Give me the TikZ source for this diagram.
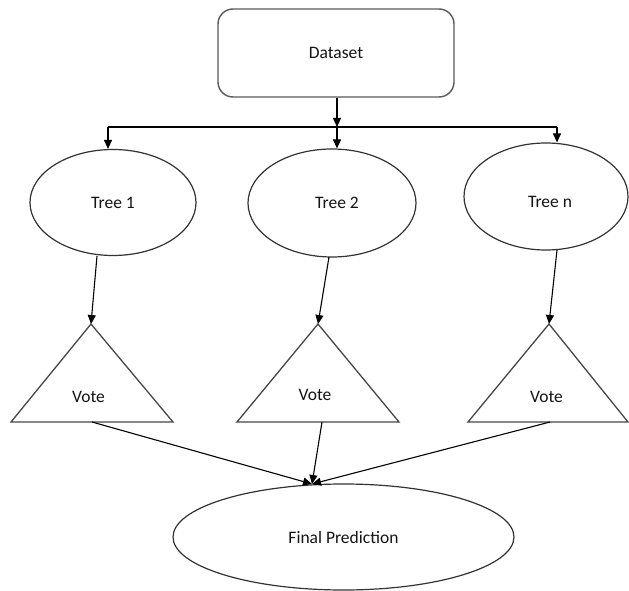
\documentclass[tikz,border=0pt]{standalone}
\usepackage{fontspec}
\setmainfont{Carlito}
\usetikzlibrary{arrows.meta,shapes.geometric}
\tikzset{
  txt/.style={font=\fontsize{17.5}{20}\selectfont, text=black!92},
  boxshape/.style={draw=black!65, line width=1.4pt, rounded corners=15pt, inner sep=0pt, txt},
  ellshape/.style={ellipse, draw=black!80, line width=1.2pt, inner sep=0pt, txt},
  triline/.style={draw=black!72, line width=1.3pt, line join=miter},
  arr/.style={draw=black, line width=1.1pt, -{Triangle[length=9pt,width=8pt]}},
  conn/.style={draw=black, line width=1.1pt}
}
\begin{document}
\begin{tikzpicture}[x=1pt,y=-1pt]
\useasboundingbox[fill=white] (0,0) rectangle (629,591);

% Dataset
\node[boxshape, minimum width=236pt, minimum height=88pt] (ds) at (336,53) {Dataset};

% Trees
\node[ellshape, minimum width=166pt, minimum height=106pt] (t1) at (113,202.5) {Tree 1};
\node[ellshape, minimum width=168pt, minimum height=108pt,
      label={[txt,xshift=5pt]center:Tree 2}] (t2) at (332,203) {};
\node[ellshape, minimum width=164pt, minimum height=107pt,
      label={[txt,xshift=4pt,yshift=-5pt]center:Tree n}] (tn) at (546,196.5) {};

% Final prediction
\node[ellshape, minimum width=341pt, minimum height=106pt] (fp) at (343.5,537) {Final Prediction};

% Triangles (votes)
\coordinate (a1) at (91,324);   \coordinate (b1) at (92,422);
\coordinate (a2) at (318,324);  \coordinate (b2) at (322,422);
\coordinate (an) at (549,324);  \coordinate (bn) at (550,422);
\path[triline] (a1) -- (173,422) -- (11,422) -- cycle;
\path[triline] (a2) -- (399,422) -- (237,422) -- cycle;
\path[triline] (an) -- (628,422) -- (468,422) -- cycle;
\node[txt] (v1) at (88.5,397) {Vote};
\node[txt] (v2) at (315,395) {Vote};
\node[txt] (vn) at (546.5,397) {Vote};

% Split from dataset
\coordinate (j) at (337,127);
\coordinate (jl) at (108,127);
\coordinate (jr) at (557,127);
\draw[conn] (jl) -- (jr);
\draw[arr] (ds.south -| j) -- (j);
\draw[arr] (j) -- (j |- t2.north);
\draw[arr] (jl) -- (jl |- t1.north);
\draw[arr] (jr) -- (jr |- tn.north);

% Trees to votes
\coordinate (s1) at (97,256);
\coordinate (s2) at (329,257);
\coordinate (sn) at (557,250);
\draw[arr] (s1) -- (a1);
\draw[arr] (s2) -- (a2);
\draw[arr] (sn) -- (an);

% Votes to final prediction
\coordinate (c) at (312,484);
\draw[arr] (b1) -- (c);
\draw[arr] (b2) -- (c);
\draw[arr] (bn) -- (c);
\end{tikzpicture}
\end{document}
